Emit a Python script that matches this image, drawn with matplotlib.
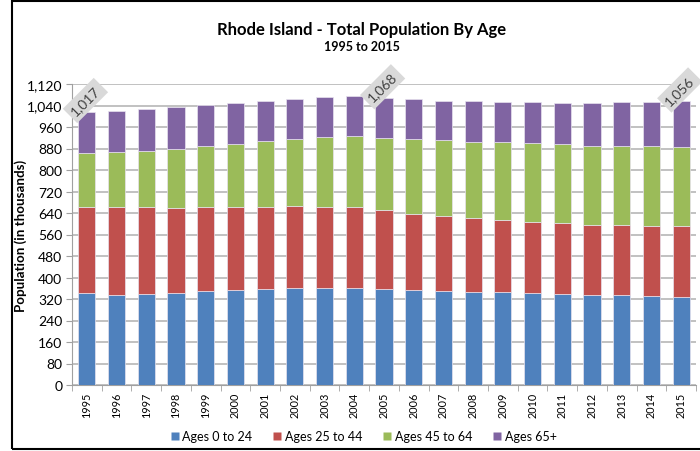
import matplotlib
matplotlib.use("Agg")
import matplotlib.pyplot as plt
from matplotlib.patches import Rectangle
from matplotlib.lines import Line2D
import numpy as np

plt.rcParams['font.family'] = ['Lato', 'DejaVu Sans']

years = [str(y) for y in range(1995, 2016)]
ages_0_24 = [342, 336, 340, 341, 351, 355, 358, 361, 360, 362, 357,
             353, 350, 347, 346, 342, 340, 336, 335, 332, 329]
ages_25_44 = [320, 326, 321, 319, 311, 309, 306, 305, 304, 299, 293,
              285, 279, 274, 267, 265, 262, 259, 259, 261, 261]
ages_45_64 = [202, 206, 210, 217, 227, 234, 243, 250, 258, 265, 269,
              278, 281, 285, 290, 294, 294, 296, 296, 296, 297]
ages_65_plus = [153, 152, 156, 156, 153, 153, 151, 150, 150, 150, 149,
                148, 147, 150, 151, 152, 155, 160, 162, 165, 169]
series_names = ["Ages 0 to 24", "Ages 25 to 44", "Ages 45 to 64", "Ages 65+"]
series_colors = ["#4F81BD", "#C0504D", "#9BBB59", "#8064A2"]
labeled_years = ["1995", "2005", "2015"]
y_ticks = list(range(0, 1121, 80))

fig = plt.figure(figsize=(7.0, 4.52), dpi=100)
ax = fig.add_axes([72 / 700, 1 - 386 / 452, (696 - 72) / 700, (386 - 85) / 452])

x = np.arange(len(years))
bottom = np.zeros(len(years))
for vals, name, col in zip([ages_0_24, ages_25_44, ages_45_64, ages_65_plus],
                           series_names, series_colors):
    ax.bar(x, vals, width=0.58, bottom=bottom, color=col, label=name,
           edgecolor="#e8e3ef", linewidth=0.5, zorder=3)
    bottom += np.array(vals)

totals = bottom
for yr in labeled_years:
    i = years.index(yr)
    ax.annotate(f"{int(totals[i]):,}", xy=(x[i], totals[i]), xytext=(-1, -4),
                textcoords="offset points", ha="center", va="bottom",
                rotation=45, fontsize=10, color="#404040", zorder=5,
                annotation_clip=False,
                bbox=dict(boxstyle="square,pad=0.3", fc="#d9d9d9", ec="none"))

ax.set_xlim(-0.5, len(years) - 0.5)
ax.set_ylim(0, 1120)
ax.set_yticks(y_ticks)
ax.set_yticklabels([f"{v:,}" for v in y_ticks], fontsize=10)
ax.set_xticks(x)
ax.set_xticklabels(years, rotation=90, fontsize=7.8)
ax.tick_params(axis="x", length=0, pad=5)
ax.set_xticks(np.arange(-0.5, len(years)), minor=True)
ax.tick_params(axis="x", which="minor", length=4, color="#a0a0a0")
ax.tick_params(axis="y", length=4, color="#a0a0a0", pad=3)

ax.grid(axis="y", color="#b0b0b0", linewidth=1.1, zorder=0)
for s in ["top", "right"]:
    ax.spines[s].set_visible(False)
for s in ["left", "bottom"]:
    ax.spines[s].set_color("#a0a0a0")

ax.set_ylabel("Population (in thousands)", fontsize=9.6, fontweight="bold")
ax.yaxis.set_label_coords(-45 / 624, 0.5)

fig.text(0.517, 0.933, "Rhode Island - Total Population By Age",
         ha="center", va="center", fontsize=12, fontweight="bold")
fig.text(0.517, 0.897, "1995 to 2015", ha="center", va="center",
         fontsize=9, fontweight="bold")

handles = [Line2D([], [], marker="s", linestyle="none", markersize=6,
                  markerfacecolor=c, markeredgecolor="none") for c in series_colors]
fig.legend(handles, series_names, loc="center", bbox_to_anchor=(0.518, 0.033),
           ncol=4, frameon=False, fontsize=9, handletextpad=0.1,
           columnspacing=1.5, handlelength=1.0)

# chart frame
fig.add_artist(Rectangle((12 / 700, 2 / 452), 0.99, 448 / 452,
                         transform=fig.transFigure, fill=False,
                         edgecolor="black", linewidth=1.5))

fig.savefig("out.png", dpi=100)
